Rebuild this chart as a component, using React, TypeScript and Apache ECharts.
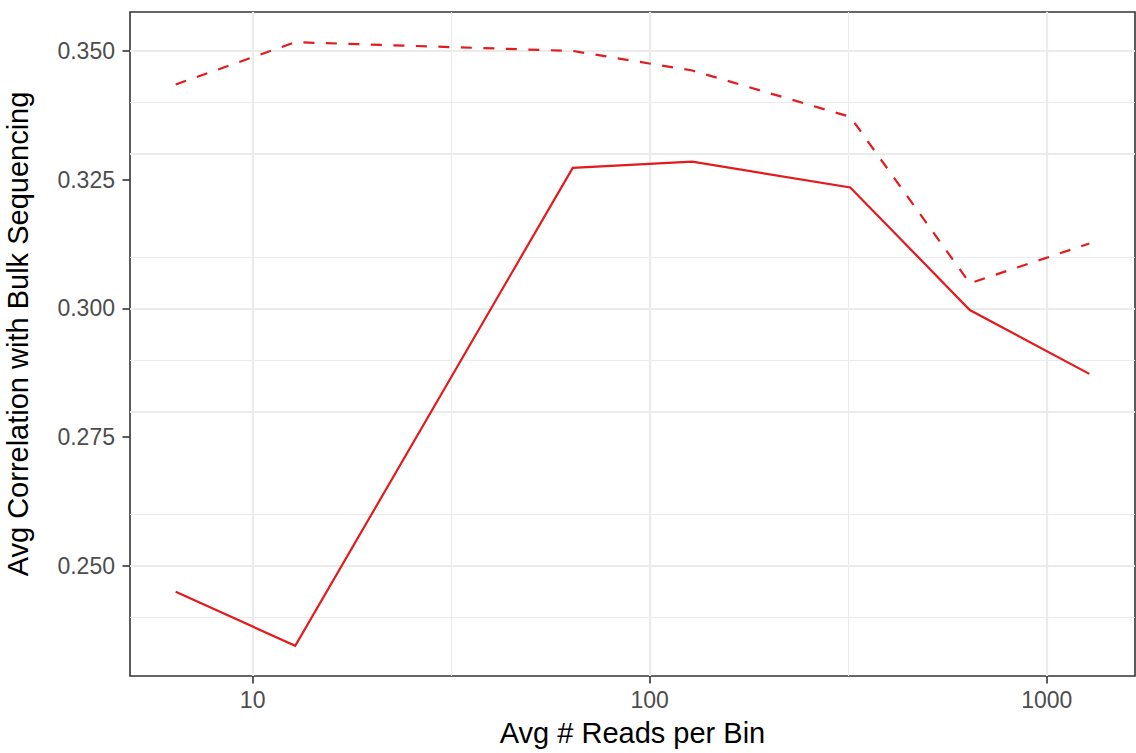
import React, { useEffect, useRef } from 'react';
import * as echarts from 'echarts';

// ---- data ----
const xValues = [6.4, 12.8, 64, 128, 320, 640, 1280];
const solidValues = [0.2450, 0.2345, 0.3273, 0.3285, 0.3235, 0.2997, 0.2873];
const dashedValues = [0.3435, 0.3517, 0.3500, 0.3462, 0.3372, 0.3049, 0.3126];

const xTickValues = [10, 100, 1000];
const xTickLabels = ['10', '100', '1000'];
const xMinorValues = [31.623, 316.23];

const yTickValues = [0.25, 0.275, 0.3, 0.325, 0.35];
const yTickLabels = ['0.250', '0.275', '0.300', '0.325', '0.350'];
const yMinorValues = [0.2375, 0.2625, 0.2875, 0.3125, 0.3375];

const xTitle = 'Avg # Reads per Bin';
const yTitle = 'Avg Correlation with Bulk Sequencing';

const FONT = 'Liberation Sans, Arial, Helvetica, sans-serif';
const RED = '#E41A1C';
const GRID = '#EBEBEB';
const INK = '#333333';

// ggplot-like 5% expansion of the data range
function expandRange(lo: number, hi: number): [number, number] {
  const s = hi - lo;
  return [lo - 0.05 * s, hi + 0.05 * s];
}

export default function App() {
  const ref = useRef<HTMLDivElement>(null);

  useEffect(() => {
    document.body.style.margin = '0';
    if (!ref.current) return;
    const chart = echarts.init(ref.current, null, { renderer: 'svg' });

    const allY = solidValues.concat(dashedValues);
    const [yMin, yMax] = expandRange(Math.min(...allY), Math.max(...allY));
    const [lxMin, lxMax] = expandRange(
      Math.log10(Math.min(...xValues)),
      Math.log10(Math.max(...xValues))
    );
    const xMin = Math.pow(10, lxMin);
    const xMax = Math.pow(10, lxMax);

    const gridLines: any[] = [];
    yMinorValues.forEach((v) =>
      gridLines.push({ yAxis: v, lineStyle: { color: GRID, width: 1.1, type: 'solid' } })
    );
    xMinorValues.forEach((v) =>
      gridLines.push({ xAxis: v, lineStyle: { color: GRID, width: 1.1, type: 'solid' } })
    );
    yTickValues.forEach((v) =>
      gridLines.push({ yAxis: v, lineStyle: { color: GRID, width: 2.2, type: 'solid' } })
    );
    xTickValues.forEach((v) =>
      gridLines.push({ xAxis: v, lineStyle: { color: GRID, width: 2.2, type: 'solid' } })
    );

    const option: any = {
      animation: false,
      backgroundColor: '#ffffff',
      grid: {
        left: 130,
        top: 12,
        right: 1,
        bottom: 77,
        show: true,
        borderColor: INK,
        borderWidth: 1.6,
        backgroundColor: '#ffffff',
        containLabel: false,
        outerBoundsMode: 'none',
      },
      xAxis: {
        type: 'log',
        logBase: 10,
        min: xMin,
        max: xMax,
        axisLine: { show: false },
        axisTick: {
          show: true,
          customValues: xTickValues,
          length: 7.5,
          lineStyle: { color: INK, width: 1.6 },
        },
        axisLabel: {
          customValues: xTickValues,
          showMinLabel: true,
          showMaxLabel: true,
          formatter: (v: number) => {
            const i = xTickValues.indexOf(Math.round(v));
            return i >= 0 ? xTickLabels[i] : '';
          },
          margin: 12.5,
          fontSize: 23,
          color: '#4D4D4D',
          fontFamily: FONT,
        },
        splitLine: { show: false },
        minorTick: { show: false },
        minorSplitLine: { show: false },
        name: xTitle,
        nameLocation: 'middle',
        nameGap: 42,
        nameTextStyle: { fontSize: 29, color: '#000000', fontFamily: FONT },
      },
      yAxis: {
        type: 'value',
        min: yMin,
        max: yMax,
        axisLine: { show: false },
        axisTick: {
          show: true,
          customValues: yTickValues,
          length: 7.5,
          lineStyle: { color: INK, width: 1.6 },
        },
        axisLabel: {
          customValues: yTickValues,
          showMinLabel: true,
          showMaxLabel: true,
          formatter: (v: number) => {
            let best = 0;
            yTickValues.forEach((t, i) => {
              if (Math.abs(t - v) < Math.abs(yTickValues[best] - v)) best = i;
            });
            return yTickLabels[best];
          },
          margin: 15,
          fontSize: 23,
          color: '#4D4D4D',
          fontFamily: FONT,
        },
        splitLine: { show: false },
      },
      graphic: [
        {
          type: 'text',
          x: 17.6,
          y: 334,
          rotation: Math.PI / 2,
          silent: true,
          style: {
            text: yTitle,
            fontSize: 29,
            fontFamily: FONT,
            fill: '#000000',
            align: 'center',
            verticalAlign: 'middle',
            textAlign: 'center',
            textVerticalAlign: 'middle',
          },
        },
      ],
      series: [
        {
          type: 'line',
          name: 'grid',
          data: [],
          silent: true,
          z: 1,
          markLine: {
            silent: true,
            z: 1,
            symbol: 'none',
            animation: false,
            label: { show: false },
            emphasis: { disabled: true },
            data: gridLines,
          },
        },
        {
          type: 'line',
          name: 'solid',
          data: xValues.map((x, i) => [x, solidValues[i]]),
          showSymbol: false,
          symbol: 'none',
          z: 3,
          lineStyle: { color: RED, width: 2.2, cap: 'butt', join: 'miter' },
        },
        {
          type: 'line',
          name: 'dashed',
          data: xValues.map((x, i) => [x, dashedValues[i]]),
          showSymbol: false,
          symbol: 'none',
          z: 3,
          lineStyle: { color: RED, width: 2.2, type: [11, 11.5], cap: 'butt', join: 'miter' },
        },
      ],
    };

    chart.setOption(option);
    return () => chart.dispose();
  }, []);

  return (
    <div
      ref={ref}
      style={{ position: 'absolute', left: 0, top: 0, width: 1136, height: 753 }}
    />
  );
}
